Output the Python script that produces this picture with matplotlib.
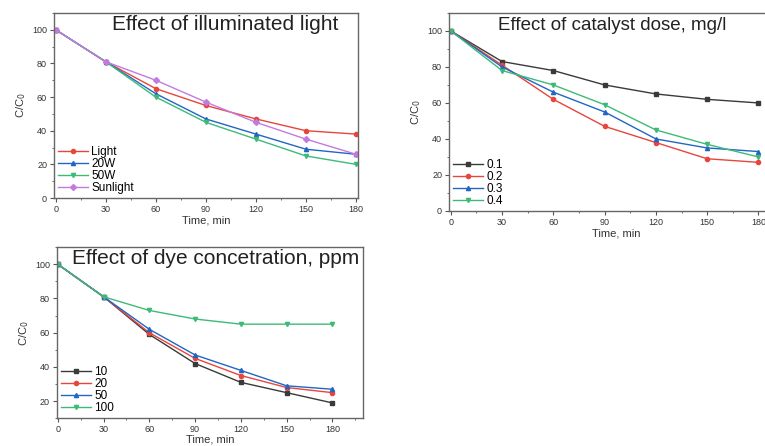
import matplotlib
matplotlib.use("Agg")
import matplotlib.pyplot as plt
from matplotlib.ticker import MultipleLocator

plt.rcParams['font.family'] = ['Liberation Sans', 'DejaVu Sans']

time = [0, 30, 60, 90, 120, 150, 180]

# effect of illuminated light
light_labels = ["Light", "20W", "50W", "Sunlight"]
light_vals = [
    [100, 81, 65, 55, 47, 40, 38],
    [100, 81, 62, 47, 38, 29, 26],
    [100, 81, 60, 45, 35, 25, 20],
    [100, 81, 70, 57, 45, 35, 26],
]

# effect of catalyst dose
dose_labels = ["0.1", "0.2", "0.3", "0.4"]
dose_vals = [
    [100, 83, 78, 70, 65, 62, 60],
    [100, 81, 62, 47, 38, 29, 27],
    [100, 80, 66, 55, 40, 35, 33],
    [100, 78, 70, 59, 45, 37, 30],
]

# effect of dye concentration
dye_labels = ["10", "20", "50", "100"]
dye_vals = [
    [100, 81, 59, 42, 31, 25, 19],
    [100, 81, 60, 45, 35, 28, 25],
    [100, 81, 62, 47, 38, 29, 27],
    [100, 81, 73, 68, 65, 65, 65],
]

black = "#3a3a3a"
red = "#e8453c"
blue = "#2166c4"
green = "#3dba78"
purple = "#c27ae0"


def style_axes(ax, xlim, ylim, yticks):
    ax.set_xlim(*xlim)
    ax.set_ylim(*ylim)
    ax.set_xticks([0, 30, 60, 90, 120, 150, 180])
    ax.set_yticks(yticks)
    ax.xaxis.set_minor_locator(MultipleLocator(15))
    ax.yaxis.set_minor_locator(MultipleLocator(10))
    ax.tick_params(which="major", labelsize=6.5, length=3, width=0.8, color="#555555",
                   labelcolor="#333333", pad=2)
    ax.tick_params(which="minor", length=1.5, width=0.6, color="#555555")
    for s in ax.spines.values():
        s.set_color("#666666")
        s.set_linewidth(1.0)
    ax.set_ylabel("C/C$_0$", fontsize=8, labelpad=3, color="#333333")
    ax.set_xlabel("Time, min", fontsize=8, labelpad=1, color="#333333")


def draw(ax, vals, labels, colors, markers):
    for v, lab, c, m in zip(vals, labels, colors, markers):
        ax.plot(time, v, color=c, marker=m, markersize=3, linewidth=1.0, label=lab)
    ax.legend(loc="lower left", frameon=False, fontsize=8.5, handlelength=2.5,
              borderaxespad=0.15, labelspacing=0.0, handletextpad=0.3, borderpad=0.2)


fig = plt.figure(figsize=(7.65, 4.46), dpi=100)

ax1 = fig.add_axes([0.0706, 0.556, 0.397, 0.415])
draw(ax1, light_vals, light_labels, [red, blue, green, purple], ["o", "^", "v", "D"])
style_axes(ax1, (-1, 181), (0, 110), [0, 20, 40, 60, 80, 100])
ax1.text(0.935, 0.94, "Effect of illuminated light", transform=ax1.transAxes,
         fontsize=15, ha="right", va="center", color="#222222")

ax2 = fig.add_axes([0.587, 0.527, 0.438, 0.444])
draw(ax2, dose_vals, dose_labels, [black, red, blue, green], ["s", "o", "^", "v"])
style_axes(ax2, (-1, 195), (0, 110), [0, 20, 40, 60, 80, 100])
ax2.text(0.487, 0.935, "Effect of catalyst dose, mg/l", transform=ax2.transAxes,
         fontsize=13.5, ha="center", va="center", color="#222222")

ax3 = fig.add_axes([0.0745, 0.062, 0.400, 0.384])
draw(ax3, dye_vals, dye_labels, [black, red, blue, green], ["s", "o", "^", "v"])
style_axes(ax3, (-0.5, 200), (10, 110), [20, 40, 60, 80, 100])
ax3.xaxis.labelpad = 0
ax3.text(0.049, 0.935, "Effect of dye concetration, ppm", transform=ax3.transAxes,
         fontsize=15, ha="left", va="center", color="#222222")

fig.savefig("out.png", dpi=100)
